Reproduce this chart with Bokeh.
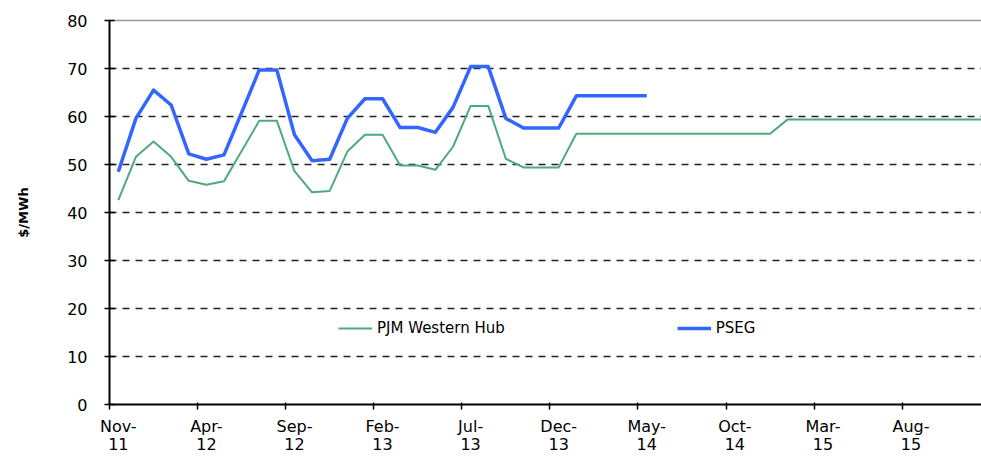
from bokeh.plotting import figure
from bokeh.models import (Range1d, LinearAxis, FixedTicker, Legend, LegendItem,
                          ColumnDataSource, Grid)
from bokeh.embed import file_html
from bokeh.resources import INLINE

# ---- data ----
tick_labels = ["Nov-\n11", "Apr-\n12", "Sep-\n12", "Feb-\n13", "Jul-\n13",
               "Dec-\n13", "May-\n14", "Oct-\n14", "Mar-\n15", "Aug-\n15"]
n_months = 50  # Nov-11 .. Dec-15 (monthly categories)

pjm_western_hub = [42.6, 51.6, 54.8, 51.6, 46.6, 45.8, 46.5, 52.8, 59.1, 59.1,
                   48.6, 44.2, 44.5, 52.7, 56.2, 56.2, 49.8, 49.8, 48.9, 53.7,
                   62.2, 62.2, 51.2, 49.4, 49.4, 49.4, 56.4, 56.4, 56.4, 56.4,
                   56.4, 56.4, 56.4, 56.4, 56.4, 56.4, 56.4, 56.4, 59.4, 59.4,
                   59.4, 59.4, 59.4, 59.4, 59.4, 59.4, 59.4, 59.4, 59.4, 59.4]
pseg = [48.5, 59.6, 65.5, 62.4, 52.2, 51.1, 52.0, 60.8, 69.7, 69.7,
        56.2, 50.8, 51.1, 59.6, 63.7, 63.7, 57.7, 57.7, 56.7, 61.9,
        70.4, 70.4, 59.6, 57.6, 57.6, 57.6, 64.3, 64.3, 64.3, 64.3, 64.3]

y_ticks = [0, 10, 20, 30, 40, 50, 60, 70, 80]
grid_ticks = [10, 20, 30, 40, 50, 60, 70]
label_every = 5

FONT = "DejaVu Sans"

# category i is centred at i + 0.5 (Excel "between tick marks")
x_green = [i + 0.5 for i in range(len(pjm_western_hub))]
x_blue = [i + 0.5 for i in range(len(pseg))]

p = figure(width=981, height=456, output_backend="svg", toolbar_location=None,
           x_range=Range1d(0, 49.5), y_range=Range1d(0, 80),
           min_border_left=109, min_border_right=0, min_border_top=20,
           min_border_bottom=51, x_axis_location=None, y_axis_location=None)
p.outline_line_color = None
p.background_fill_color = "white"
p.border_fill_color = "white"

# y axis
yax = LinearAxis(ticker=FixedTicker(ticks=y_ticks))
yax.axis_line_color = "black"
yax.axis_line_width = 2
yax.major_tick_line_color = "black"
yax.major_tick_line_width = 1.5
yax.major_tick_in = 5
yax.major_tick_out = 5
yax.minor_tick_line_color = None
yax.major_label_standoff = 17
yax.major_label_text_font = FONT
yax.major_label_text_font_size = "16px"
yax.major_label_text_color = "black"
yax.axis_label = "$/MWh"
yax.axis_label_text_font = FONT
yax.axis_label_text_font_size = "13px"
yax.axis_label_text_font_style = "bold"
yax.axis_label_text_color = "black"
yax.axis_label_standoff = 33
p.add_layout(yax, "left")

# top border line
top = LinearAxis(ticker=FixedTicker(ticks=[]))
top.axis_line_color = "#999999"
top.axis_line_width = 1.5
top.major_tick_line_color = None
top.minor_tick_line_color = None
top.major_label_standoff = 0
p.add_layout(top, "above")

# x axis: labels centred on categories, tick marks on category boundaries
boundary_ticks = list(range(0, n_months, label_every))
label_pos = [t + 0.5 for t in boundary_ticks]
xax = LinearAxis(ticker=FixedTicker(ticks=label_pos, minor_ticks=boundary_ticks))
xax.axis_line_color = "black"
xax.axis_line_width = 2
xax.major_tick_line_color = None
xax.major_tick_in = 0
xax.major_tick_out = 0
xax.minor_tick_line_color = "black"
xax.minor_tick_line_width = 1.5
xax.minor_tick_in = 2
xax.minor_tick_out = 5
xax.major_label_overrides = {pos: lab for pos, lab in zip(label_pos, tick_labels)}
xax.major_label_text_font = FONT
xax.major_label_text_font_size = "16px"
xax.major_label_text_line_height = 0.95
xax.major_label_text_color = "black"
xax.major_label_standoff = 7
p.add_layout(xax, "below")

# grid
p.xgrid.visible = False
p.ygrid.visible = False
g = Grid(dimension=1, ticker=FixedTicker(ticks=grid_ticks))
g.grid_line_color = "#222222"
g.grid_line_width = 1.5
g.grid_line_dash = "7 6"
p.add_layout(g)

src_g = ColumnDataSource(dict(x=x_green, y=pjm_western_hub))
src_b = ColumnDataSource(dict(x=x_blue, y=pseg))
rg = p.line("x", "y", source=src_g, line_color="#4daa7c", line_width=2,
            line_join="round")
rb = p.line("x", "y", source=src_b, line_color="#3366ff", line_width=3.5,
            line_join="round")

legend = Legend(items=[LegendItem(label="PJM Western Hub", renderers=[rg]),
                       LegendItem(label="PSEG", renderers=[rb])],
                orientation="horizontal", location=(229, 66))
legend.border_line_color = None
legend.background_fill_alpha = 0
legend.padding = 0
legend.margin = 0
legend.spacing = 172
legend.glyph_width = 34
legend.glyph_height = 20
legend.label_height = 20
legend.label_standoff = 5
legend.label_text_font = FONT
legend.label_text_font_size = "15px"
legend.label_text_color = "black"
p.add_layout(legend, "center")

open("out.html", "w").write(file_html(p, INLINE))
